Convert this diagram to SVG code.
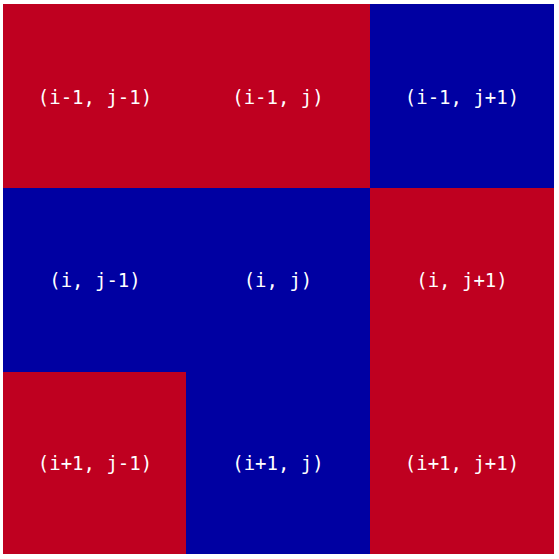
<svg xmlns="http://www.w3.org/2000/svg" width="559" height="559" viewBox="0 0 559 559">
<style>
.r{fill:#BF0020}
.b{fill:#0000A2}
text{font-family:"DejaVu Sans Mono",monospace;font-size:19px;fill:#ffffff;text-anchor:middle;dominant-baseline:central}
</style>
<rect width="559" height="559" fill="#ffffff"/>
<g id="n00"><rect class="r" x="3" y="4" width="184" height="185"/><text x="95" y="97">(i-1, j-1)</text></g>
<g id="n01"><rect class="r" x="186" y="4" width="185" height="185"/><text x="278" y="97">(i-1, j)</text></g>
<g id="n02"><rect class="b" x="370" y="4" width="184" height="185"/><text x="462" y="97">(i-1, j+1)</text></g>
<g id="n10"><rect class="b" x="3" y="188" width="184" height="185"/><text x="95" y="280">(i, j-1)</text></g>
<g id="n11"><rect class="b" x="186" y="188" width="185" height="185"/><text x="278" y="280">(i, j)</text></g>
<g id="n12"><rect class="r" x="370" y="188" width="184" height="185"/><text x="462" y="280">(i, j+1)</text></g>
<g id="n20"><rect class="r" x="3" y="372" width="184" height="182"/><text x="95" y="463">(i+1, j-1)</text></g>
<g id="n21"><rect class="b" x="186" y="372" width="185" height="182"/><text x="278" y="463">(i+1, j)</text></g>
<g id="n22"><rect class="r" x="370" y="372" width="184" height="182"/><text x="462" y="463">(i+1, j+1)</text></g>
<g id="connectors"/>
</svg>
